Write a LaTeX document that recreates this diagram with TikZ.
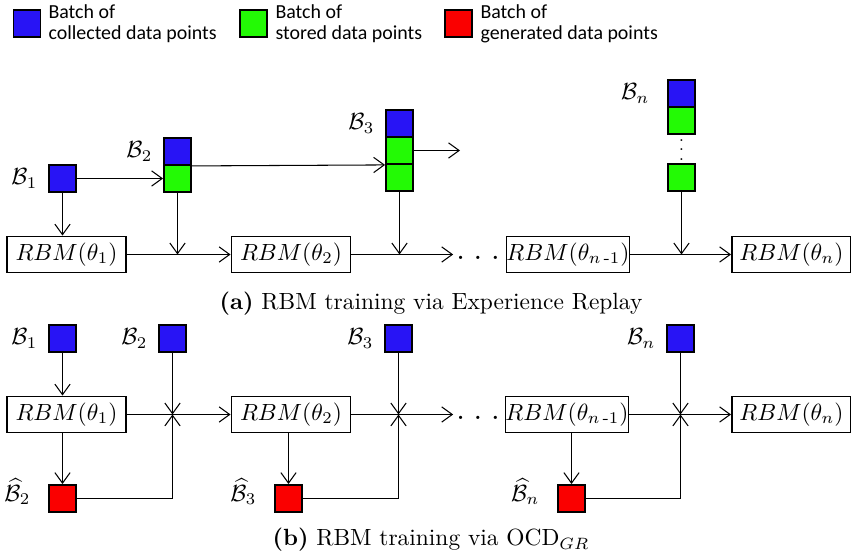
\documentclass[tikz,border=0pt]{standalone}
\usepackage{amsmath}
\usepackage{amsfonts,amssymb}
\usepackage{fontspec}
\newfontfamily\legendfont{Carlito}
\usepackage{tikz}
\usepackage{xcolor}
\usetikzlibrary{arrows.meta}

\definecolor{collblue}{RGB}{40,20,245}
\definecolor{storgreen}{RGB}{35,250,5}
\definecolor{genred}{RGB}{250,0,0}

\begin{document}
\begin{tikzpicture}[x=0.15mm,y=-0.15mm,line width=0.45pt,
    >={Straight Barb[length=4.5pt,width=6.5pt]},
    rbm/.style={draw,line width=0.8pt,minimum width=17.85mm,minimum height=5.4mm,inner sep=0pt},
    batch/.style={draw,line width=0.8pt,minimum size=4.05mm,inner sep=0pt},
    coll/.style={batch,fill=collblue},
    stor/.style={batch,fill=storgreen},
    gen/.style={batch,fill=genred},
    lbl/.style={label distance=1pt},
    hlbl/.style={label distance=4pt,yshift=3pt},
    legtext/.style={anchor=west,align=left,inner sep=0pt,font=\legendfont\fontsize{8.5}{9}\selectfont},
    dotsnode/.style={inner sep=1pt,yshift=-1.5pt,font=\Large},
    caption/.style={inner sep=0pt}]
    \useasboundingbox (0,0) rectangle (851,559);
    % legend
    \node[coll] (lgc) at (27,23.5) {};
    \node[legtext] (lgct) at (48,24) {Batch of\\collected data points};
    \node[stor] (lgs) at (253.5,23.5) {};
    \node[legtext] (lgst) at (275,24) {Batch of\\stored data points};
    \node[gen] (lgg) at (458.5,23.5) {};
    \node[legtext] (lggt) at (480,24) {Batch of\\generated data points};

    % (a) experience replay
    \node[rbm] (r1) at (66.5,254.5) {$RBM(\theta_1)$};
    \node[rbm] (r2) at (291,254.5) {$RBM(\theta_2)$};
    \node[rbm] (rn1) at (568,254.5) {$RBM(\theta_{n\,\text{-}1})$};
    \node[rbm] (rn) at (791.5,254.5) {$RBM(\theta_n)$};
    \node[dotsnode] (dotsa) at (478,254.5) {.\hspace{3.5pt}.\hspace{3.5pt}.};
    \node[coll,label={[lbl]left:$\mathcal{B}_1$}] (ba1) at (62.5,178.5) {};
    \node[coll,label={[lbl]left:$\mathcal{B}_2$}] (ba2) at (177.5,151.5) {};
    \node[stor] (ga2) at (177.5,178.5) {};
    \node[coll,label={[lbl]left:$\mathcal{B}_3$}] (ba3) at (399.5,123.5) {};
    \node[stor] (ga3) at (399.5,150.5) {};
    \node[stor] (gb3) at (399.5,177.5) {};
    \node[coll,label={[lbl,label distance=4pt]left:$\mathcal{B}_n$}] (ban) at (681.5,93.5) {};
    \node[stor] (gan) at (681.5,120.5) {};
    \node[font=\scriptsize,inner sep=0pt] (vdn) at (681.5,143) {$\vdots$};
    \node[stor] (gbn) at (681.5,177.5) {};
    \coordinate (ea3) at (460,150.5);

    \draw[->] (ba1) -- (ga2);
    \draw[->] (ba2.south east) -- (ga3.south west);
    \draw[->] (ga3.east) -- (ea3);
    \draw[->] (ba1.south) -- (ba1.south |- r1.north);
    \draw[->] (ga2.south) -- (ga2.south |- r1.east);
    \draw[->] (gb3.south) -- (gb3.south |- r2.east);
    \draw[->] (gbn.south) -- (gbn.south |- rn1.east);
    \draw[->] (r1) -- (r2);
    \draw[->] (r2.east) -- (r2.east -| dotsa.west);
    \draw[->] (rn1) -- (rn);

    \node[caption] (capa) at (431,304) {\textbf{(a)} RBM training via Experience Replay};

    % (b) generative replay
    \node[rbm] (r1b) at (66.5,414.5) {$RBM(\theta_1)$};
    \node[rbm] (r2b) at (291,414.5) {$RBM(\theta_2)$};
    \node[rbm] (rn1b) at (567,414.5) {$RBM(\theta_{n\,\text{-}1})$};
    \node[rbm] (rnb) at (791.5,414.5) {$RBM(\theta_n)$};
    \node[dotsnode] (dotsb) at (478,414.5) {.\hspace{3.5pt}.\hspace{3.5pt}.};
    \node[coll,label={[lbl]left:$\mathcal{B}_1$}] (bb1) at (62.5,338.5) {};
    \node[coll,label={[lbl]left:$\mathcal{B}_2$}] (bb2) at (172.5,338.5) {};
    \node[coll,label={[lbl]left:$\mathcal{B}_3$}] (bb3) at (398.5,338.5) {};
    \node[coll,label={[lbl]left:$\mathcal{B}_n$}] (bbn) at (680.5,338.5) {};
    \node[gen,label={[hlbl]left:$\widehat{\mathcal{B}}_2$}] (rb2) at (62.5,498.5) {};
    \node[gen,label={[hlbl]left:$\widehat{\mathcal{B}}_3$}] (rb3) at (288.5,498.5) {};
    \node[gen,label={[hlbl]left:$\widehat{\mathcal{B}}_n$}] (rbn) at (571.5,498.5) {};

    \draw[->] (bb1.south) -- (bb1.south |- r1b.north);
    \draw[->] (r1b) -- (r2b);
    \draw[->] (r2b.east) -- (r2b.east -| dotsb.west);
    \draw[->] (rn1b) -- (rnb);
    \draw[->] (rb2.north |- r1b.south) -- (rb2.north);
    \draw[->] (rb3.north |- r2b.south) -- (rb3.north);
    \draw[->] (rbn.north |- rn1b.south) -- (rbn.north);
    \draw[->] (bb2.south) -- (bb2.south |- r1b.east);
    \draw[->] (bb3.south) -- (bb3.south |- r2b.east);
    \draw[->] (bbn.south) -- (bbn.south |- rn1b.east);
    \draw[->] (rb2.east) -| (bb2.south |- r1b.east);
    \draw[->] (rb3.east) -| (bb3.south |- r2b.east);
    \draw[->] (rbn.east) -| (bbn.south |- rn1b.east);

    \node[caption] (capb) at (431,540) {\textbf{(b)} RBM training via OCD$_{GR}$};
\end{tikzpicture}
\end{document}
